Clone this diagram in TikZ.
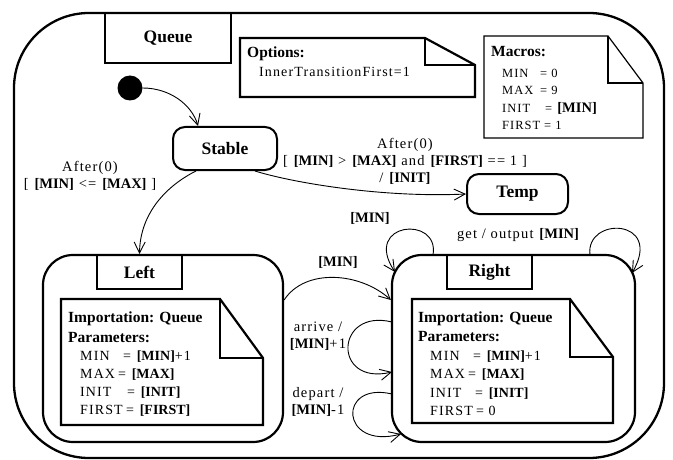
\documentclass[tikz,border=0pt]{standalone}
\usepackage{fontspec}
\setmainfont{Liberation Serif}[LetterSpace=8, BoldFeatures={LetterSpace=0}]
\usetikzlibrary{arrows.meta}
\begin{document}
\begin{tikzpicture}[x=1pt,y=-1pt,
  statebox/.style={draw, line width=2pt, rounded corners=12pt, inner sep=0pt, font=\fontsize{17.5}{20}\selectfont\bfseries},
  tabbox/.style={draw, line width=2pt, inner sep=0pt, font=\fontsize{17.5}{20}\selectfont\bfseries},
  compbox/.style={draw, line width=2.2pt, rounded corners=30pt, inner sep=0pt},
  notethick/.style={draw, line width=2.2pt, line join=miter},
  notethin/.style={draw, line width=1.2pt, line join=miter},
  lbl/.style={font=\fontsize{14.5}{17}\selectfont, align=center, inner sep=0pt},
  hdr/.style={font=\fontsize{15.5}{18}\selectfont\bfseries, anchor=base west, inner sep=0pt},
  prm/.style={font=\fontsize{14}{16}\selectfont, anchor=base west, inner sep=0pt},
  prmsmall/.style={font=\fontsize{12.5}{15}\selectfont, anchor=base west, inner sep=0pt},
  arr/.style={line width=0.9pt, -{Straight Barb[length=11pt,width=11pt]}},
]
\useasboundingbox (0,0) rectangle (673,460);

% outer composite state
\node[draw, line width=2.3pt, rounded corners=75pt, minimum width=650pt, minimum height=445pt, inner sep=0pt] (outer) at (339,235.5) {};
\node[tabbox, minimum width=126pt, minimum height=50pt] (qtab) at (168,38) {Queue};

% Options note
\draw[notethick] (240,38) -- (425,38) -- (475,65) -- (475,97) -- (240,97) -- cycle;
\draw[notethick] (425,38) -- (425,65) -- (475,65);
\node[hdr] (ophdr) at (247,58) {Options:};
\node[prm] (opln) at (259,77) {InnerTransitionFirst=1};

% Macros note
\draw[notethin] (484,36) -- (608,36) -- (643,83) -- (643,138) -- (484,138) -- cycle;
\draw[notethin] (608,36) -- (608,83) -- (643,83);
\node[hdr] (mchdr) at (491,57) {Macros:};
\node[prmsmall] (mc1) at (502,78) {\makebox[38pt][l]{MIN}= 0};
\node[prmsmall] (mc2) at (502,95) {\makebox[38pt][l]{MAX}= 9};
\node[prmsmall] (mc3) at (502,113) {\makebox[43pt][l]{INIT}= \textbf{\fontsize{14.5}{15}\selectfont [MIN]}};
\node[prmsmall] (mc4) at (502,130) {\makebox[42pt][l]{FIRST}= 1};

% initial state
\node[circle, fill=black, minimum size=25pt, inner sep=0pt] (init) at (130,88) {};

% simple states
\node[statebox, minimum width=104pt, minimum height=43pt] (stable) at (225,148.5) {Stable};
\node[statebox, minimum width=101pt, minimum height=40pt] (temp) at (517.5,194) {Temp};

% Left composite
\node[compbox, minimum width=240pt, minimum height=187pt] (left) at (163,348.5) {};
\node[tabbox, minimum width=85pt, minimum height=34pt] (ltab) at (139.5,272) {Left};
\draw[notethick] (61,299) -- (220,299) -- (263,358) -- (263,425) -- (61,425) -- cycle;
\draw[notethick] (220,299) -- (220,358) -- (263,358);
\node[hdr] (lh1) at (68,322) {Importation: Queue};
\node[hdr] (lh2) at (68,342) {Parameters:};
\node[prm] (lp1) at (80,360) {\makebox[43pt][l]{MIN}= \textbf{[MIN]}+1};
\node[prm] (lp2) at (80,378) {\makebox[38pt][l]{MAX}= \textbf{[MAX]}};
\node[prm] (lp3) at (80,396) {\makebox[47pt][l]{INIT}= \textbf{[INIT]}};
\node[prm] (lp4) at (80,414) {\makebox[46pt][l]{FIRST}= \textbf{[FIRST]}};

% Right composite
\node[compbox, minimum width=243pt, minimum height=187pt] (right) at (513.5,348.5) {};
\node[tabbox, minimum width=85pt, minimum height=34pt] (rtab) at (489.5,272) {Right};
\draw[notethick] (412,299) -- (570,299) -- (613,357) -- (613,423) -- (412,423) -- cycle;
\draw[notethick] (570,299) -- (570,357) -- (613,357);
\node[hdr] (rh1) at (418,322) {Importation: Queue};
\node[hdr] (rh2) at (418,341) {Parameters:};
\node[prm] (rp1) at (430,360) {\makebox[43pt][l]{MIN}= \textbf{[MIN]}+1};
\node[prm] (rp2) at (430,378) {\makebox[38pt][l]{MAX}= \textbf{[MAX]}};
\node[prm] (rp3) at (430,397) {\makebox[45pt][l]{INIT}= \textbf{[INIT]}};
\node[prm] (rp4) at (430,415) {\makebox[46pt][l]{FIRST}= 0};

% loop anchor coordinates on Right
\coordinate (ra1) at (433,255);
\coordinate (ra2) at (395,272);
\coordinate (rb1) at (590,255);
\coordinate (rb2) at (632,273);
\coordinate (rc1) at (392,322);
\coordinate (rc2) at (392,372);
\coordinate (rd1) at (392,394);
\coordinate (rd2) at (401,434);

% transitions
\draw[arr] (init.east) .. controls (170,88) and (192,105) .. ([xshift=-27pt]stable.north);
\draw[arr] ([xshift=-29pt]stable.south) .. controls (168,185) and (140,212) .. (ltab.north);
\draw[arr] ([xshift=30pt]stable.south) .. controls (290,182) and (380,198) .. (temp.west);
\draw[arr] ([yshift=48.5pt]left.east) .. controls (305,268) and (360,272) .. ([yshift=48.5pt]right.west);
\draw[arr] (ra1) .. controls (440,215) and (362,222) .. (ra2);
\draw[arr] (rb1) .. controls (585,216) and (664,218) .. (rb2);
\draw[arr] (rc1) .. controls (335,308) and (332,386) .. (rc2);
\draw[arr] (rd1) .. controls (337,381) and (340,450) .. (rd2);

% labels
\node[lbl] (lb1) at (90,176) {After(0)\\\relax[ \textbf{[MIN]} <= \textbf{[MAX]} ]};
\node[lbl] (lb2) at (405,161) {After(0)\\\relax[ \textbf{[MIN]} > \textbf{[MAX]} and \textbf{[FIRST]} == 1 ]\\/ \textbf{[INIT]}};
\node[lbl] (lb3) at (338,262) {\textbf{[MIN]}};
\node[lbl] (lb4) at (370,218) {\textbf{[MIN]}};
\node[lbl] (lb5) at (518,235) {get / output \textbf{[MIN]}};
\node[lbl] (lb6) at (318,336) {arrive /\\\textbf{[MIN]}+1};
\node[lbl] (lb7) at (318,402) {depart /\\\textbf{[MIN]}-1};
\end{tikzpicture}
\end{document}
